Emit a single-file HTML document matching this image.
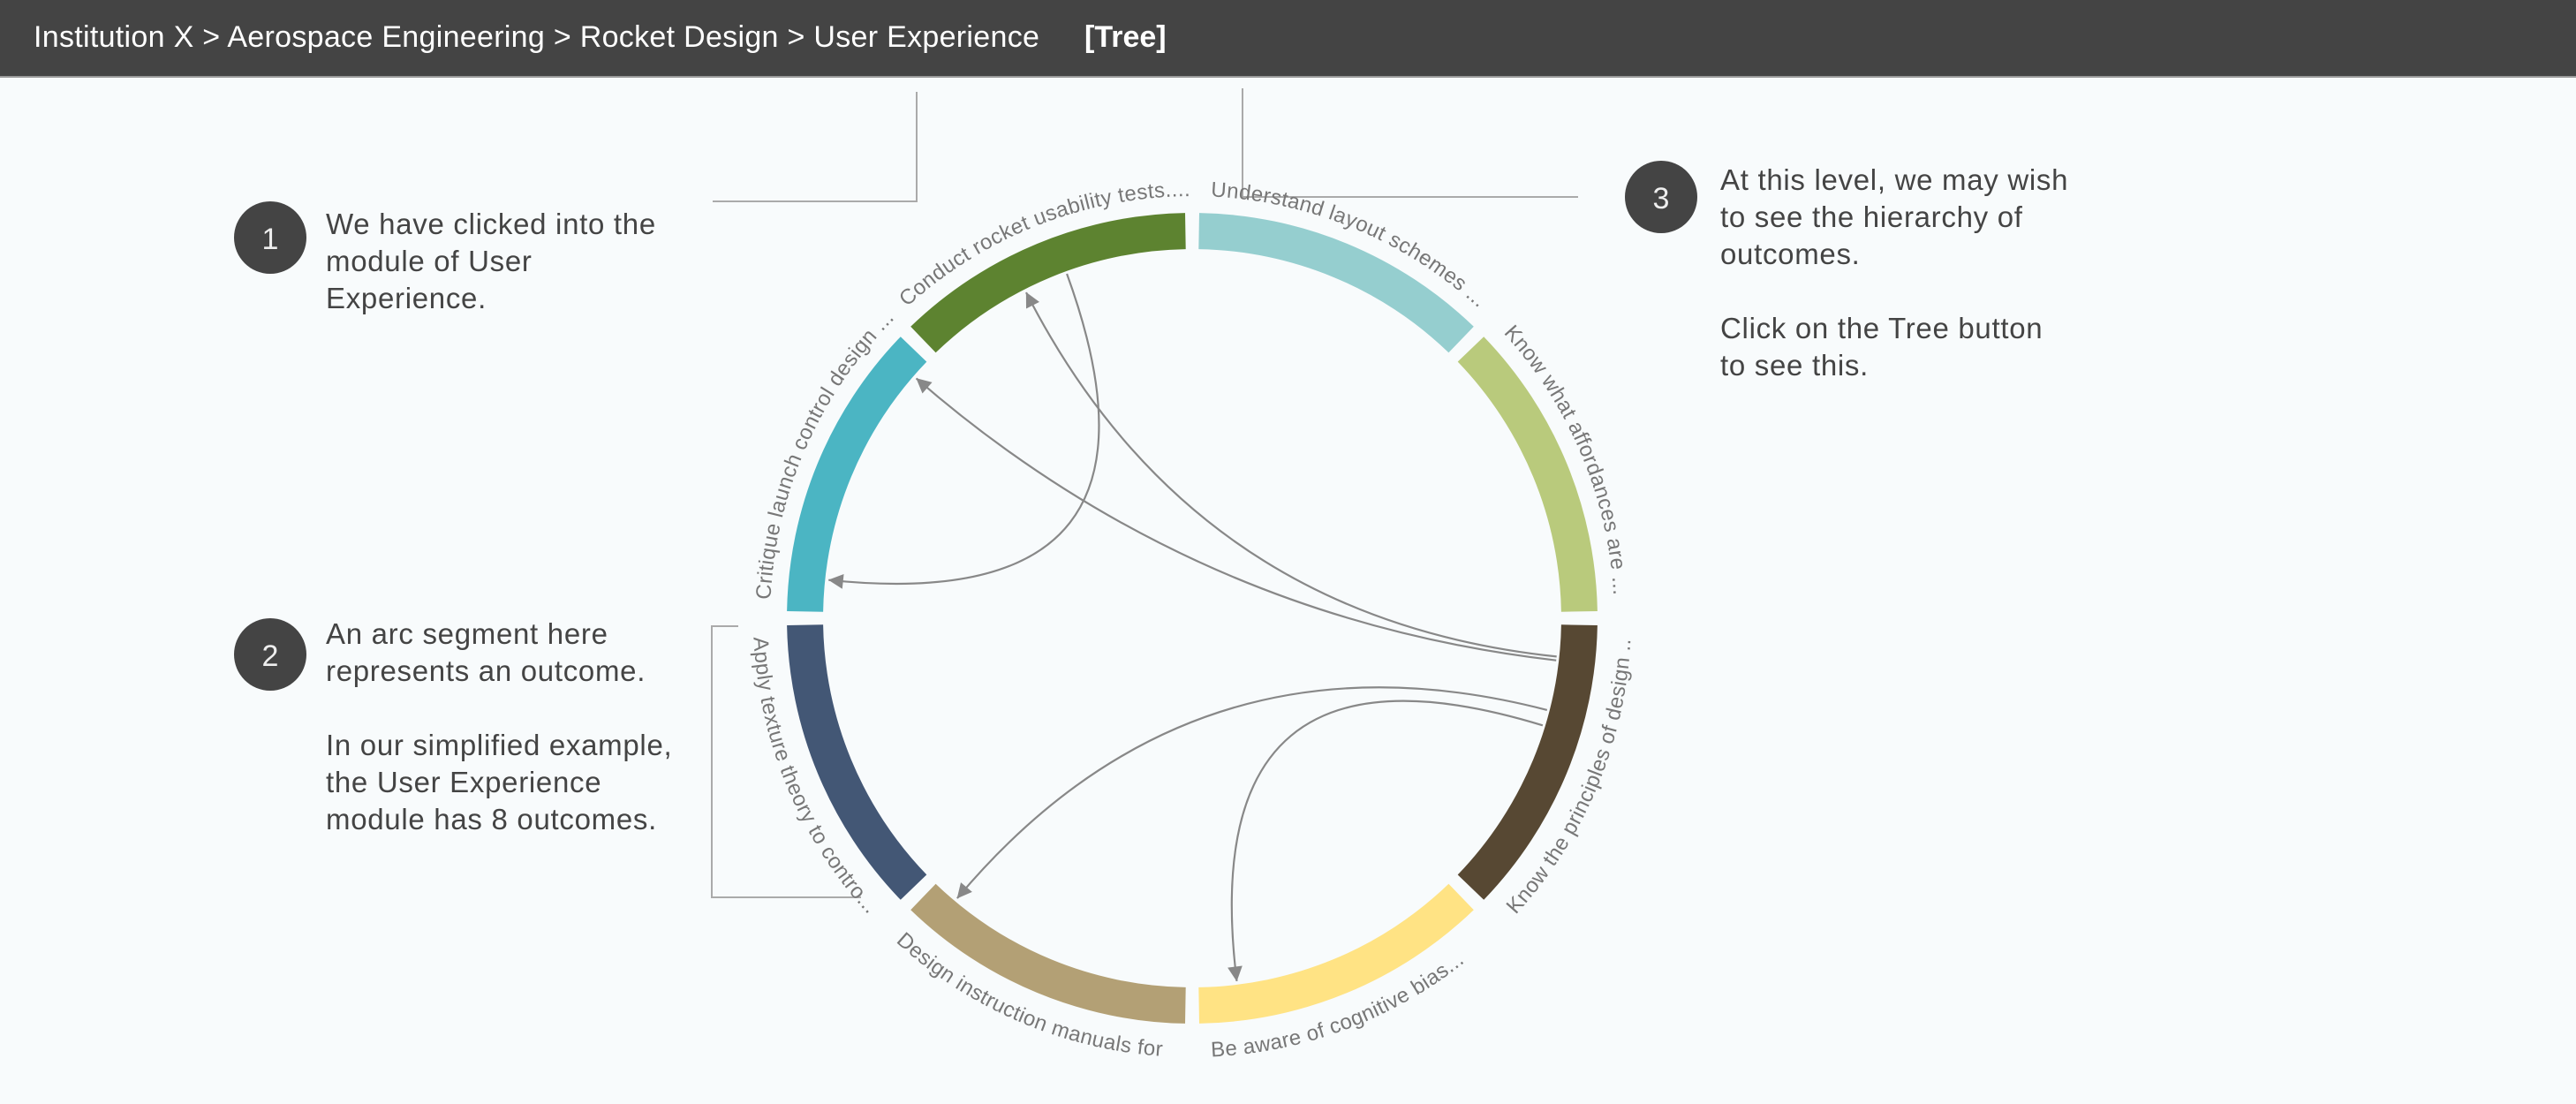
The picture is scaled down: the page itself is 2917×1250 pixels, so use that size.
<!DOCTYPE html>
<html>
<head>
<meta charset="utf-8">
<style>
  html, body { margin:0; padding:0; }
  body { width:2917px; height:1250px; background:#f8fbfc; position:relative; overflow:hidden;
         font-family:"Liberation Sans", sans-serif; }
  .header { position:absolute; left:0; top:0; width:2917px; height:86px; background:#444444;
            border-bottom:2px solid #9a9a9a; }
  .crumbs { position:absolute; left:38px; top:23px; font-size:34px; letter-spacing:0.3px; color:#fff; white-space:nowrap; }
  .tree { position:absolute; left:1228px; top:23px; font-size:34px; color:#fff; font-weight:bold; }
  .note { position:absolute; font-size:33px; letter-spacing:0.7px; line-height:42px; color:#444; white-space:nowrap; }
  svg { position:absolute; left:0; top:0; }
</style>
</head>
<body>
<div class="header">
  <div class="crumbs">Institution X &gt; Aerospace Engineering &gt; Rocket Design &gt; User Experience</div>
  <div class="tree">[Tree]</div>
</div>

<div class="note" style="left:369px;top:233px;">We have clicked into the<br>module of User<br>Experience.</div>
<div class="note" style="left:369px;top:697px;">An arc segment here<br>represents an outcome.<br><br>In our simplified example,<br>the User Experience<br>module has 8 outcomes.</div>
<div class="note" style="left:1948px;top:183px;">At this level, we may wish<br>to see the hierarchy of<br>outcomes.<br><br>Click on the Tree button<br>to see this.</div>

<svg id="chart" width="2917" height="1250" xmlns="http://www.w3.org/2000/svg">
  <defs>
    <marker id="arrow" viewBox="0 0 10 10" refX="9" refY="5" markerWidth="8" markerHeight="8" markerUnits="userSpaceOnUse" orient="auto" style="overflow:visible">
      <path d="M0,0 L10,5 L0,10 Z" fill="#888" transform="scale(2.1) translate(-5.5,-2.6)"/>
    </marker>
  </defs>
  <g stroke="#aaa" stroke-width="2" fill="none">
    <polyline points="1038,104 1038,228 807,228"/>
    <polyline points="836,709 806,709 806,1016 975,1016"/>
    <polyline points="1407,100 1407,223 1787,223"/>
  </g>
  <g>
    <circle cx="306" cy="269" r="41" fill="#444"/>
    <text x="306" y="282" font-size="34" fill="#eee" text-anchor="middle">1</text>
    <circle cx="306" cy="741" r="41" fill="#444"/>
    <text x="306" y="754" font-size="34" fill="#eee" text-anchor="middle">2</text>
    <circle cx="1881" cy="223" r="41" fill="#444"/>
    <text x="1881" y="236" font-size="34" fill="#eee" text-anchor="middle">3</text>
  </g>
  <g id="links"></g>
  <g id="segments"></g>
  <g id="labels"></g>
</svg>

<script>
// ---- chart data ----
const outcomeNames = [
  "Understand layout schemes ...",
  "Know what affordances are ...",
  "Know the principles of design ..",
  "Be aware of cognitive bias...",
  "Design instruction manuals for",
  "Apply texture theory to contro...",
  "Critique launch control design ...",
  "Conduct rocket usability tests...."
];
const outcomeColors = ["#95cecf","#b9ca7c","#574833","#ffe384","#b3a075","#435775","#4bb5c3","#5d8330"];
const outcomeWeights = [1,1,1,1,1,1,1,1];
// links: source and target as clock angles (degrees) at the ring
const linkSourceAngles = [340, 96, 96.6, 104.5, 107];
const linkTargetAngles = [276, 333, 311, 220, 173];

const cx = 1350, cy = 700, rOuter = 459, rInner = 418, padDeg = 1.0;
const svgNS = "http://www.w3.org/2000/svg";
function pt(r, a){ const t = a*Math.PI/180; return [cx + r*Math.sin(t), cy - r*Math.cos(t)]; }
function f(p){ return p[0].toFixed(1)+","+p[1].toFixed(1); }

const total = outcomeWeights.reduce((s,v)=>s+v,0);
const segG = document.getElementById('segments');
const labG = document.getElementById('labels');
const defs = document.querySelector('defs');
let acc = 0;
outcomeWeights.forEach((w,i)=>{
  const a0 = acc/total*360, a1 = (acc+w)/total*360; acc += w;
  const s = a0+padDeg, e = a1-padDeg;
  const large = (e-s)>180?1:0;
  const d = "M"+f(pt(rOuter,s))+" A"+rOuter+","+rOuter+" 0 "+large+" 1 "+f(pt(rOuter,e))+
            " L"+f(pt(rInner,e))+" A"+rInner+","+rInner+" 0 "+large+" 0 "+f(pt(rInner,s))+" Z";
  const p = document.createElementNS(svgNS,'path');
  p.setAttribute('d', d);
  p.setAttribute('fill', outcomeColors[i]);
  
  
  segG.appendChild(p);

  const mid = (a0+a1)/2;
  const top = (mid < 90 || mid > 270);
  const lp = document.createElementNS(svgNS,'path');
  let ld;
  if (top) {
    const r = 478;
    ld = "M"+f(pt(r,a0+2.5))+" A"+r+","+r+" 0 0 1 "+f(pt(r,a1+10));
  } else {
    const r = 497;
    ld = "M"+f(pt(r,a1-2.5))+" A"+r+","+r+" 0 0 0 "+f(pt(r,a0-10));
  }
  lp.setAttribute('d', ld);
  lp.setAttribute('id', 'lp'+i);
  lp.setAttribute('fill', 'none');
  defs.appendChild(lp);
  const t = document.createElementNS(svgNS,'text');
  t.setAttribute('font-size', '24');
  t.setAttribute('fill', '#777');
  t.setAttribute('letter-spacing', '0.4');
  
  
  const tp = document.createElementNS(svgNS,'textPath');
  tp.setAttribute('href', '#lp'+i);
  tp.textContent = outcomeNames[i];
  t.appendChild(tp);
  labG.appendChild(t);
});

const linkG = document.getElementById('links');
linkSourceAngles.forEach((sa,i)=>{
  const ta = linkTargetAngles[i];
  const p0 = pt(rInner-3, sa), p2 = pt(rInner-4, ta);
  const p = document.createElementNS(svgNS,'path');
  p.setAttribute('d', "M"+f(p0)+" Q"+cx+","+cy+" "+f(p2));
  p.setAttribute('fill', 'none');
  p.setAttribute('stroke', '#888');
  p.setAttribute('stroke-width', '2.2');
  p.setAttribute('marker-end', 'url(#arrow)');
  
  
  linkG.appendChild(p);
});
</script>
</body>
</html>
